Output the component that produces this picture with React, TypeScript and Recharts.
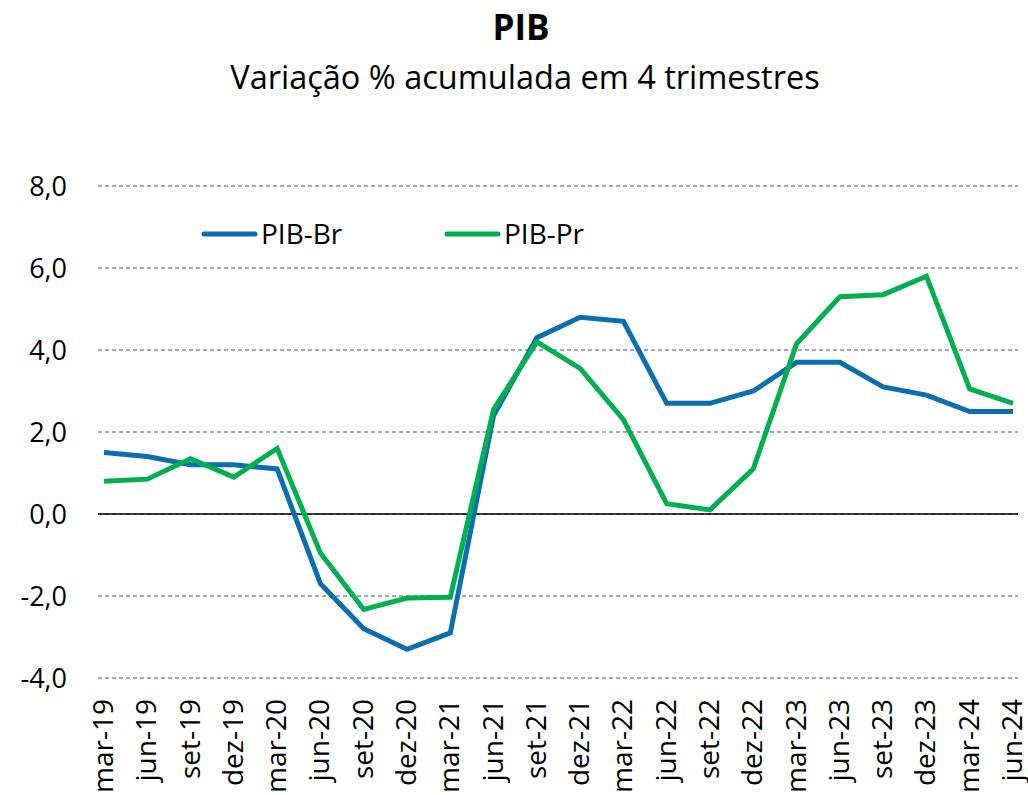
import React from "react";
import { LineChart, Line, XAxis, YAxis, CartesianGrid, ReferenceLine } from "recharts";

const categories = [
  "mar-19", "jun-19", "set-19", "dez-19",
  "mar-20", "jun-20", "set-20", "dez-20",
  "mar-21", "jun-21", "set-21", "dez-21",
  "mar-22", "jun-22", "set-22", "dez-22",
  "mar-23", "jun-23", "set-23", "dez-23",
  "mar-24", "jun-24",
];
const pibBr = [1.5, 1.4, 1.2, 1.2, 1.1, -1.7, -2.8, -3.3, -2.9, 2.4, 4.3, 4.8, 4.7, 2.7, 2.7, 3.0, 3.7, 3.7, 3.1, 2.9, 2.5, 2.5];
const pibPr = [0.8, 0.85, 1.35, 0.9, 1.6, -0.95, -2.33, -2.05, -2.03, 2.55, 4.2, 3.55, 2.3, 0.25, 0.1, 1.1, 4.15, 5.3, 5.35, 5.8, 3.05, 2.7];
const yTicks = [-4, -2, 0, 2, 4, 6, 8];
const seriesNames = ["PIB-Br", "PIB-Pr"];

const BLUE = "#0a6eb0";
const GREEN = "#00b050";
const FONT = "'Open Sans', 'Noto Sans', sans-serif";

const data = categories.map((c, i) => ({ cat: c, br: pibBr[i], pr: pibPr[i] }));

const fmt = (v: number) => v.toFixed(1).replace(".", ",");

const XTick = (props: any) => {
  const { x, y, payload } = props;
  return (
    <text
      x={0}
      y={0}
      transform={`translate(${x - 2},${y + 13}) rotate(-90)`}
      textAnchor="end"
      dominantBaseline="central"
      fontSize={28}
      fontFamily={FONT}
      fill="#000"
    >
      {payload.value}
    </text>
  );
};

export default function App() {
  return (
    <div style={{ position: "absolute", left: 0, top: 0, width: 1028, height: 795, background: "#fff" }}>
      <LineChart
        width={1028}
        height={795}
        data={data}
        margin={{ top: 186, right: 10, bottom: 0, left: 0 }}
      >
        <CartesianGrid horizontal vertical={false} stroke="#8c8c8c" strokeDasharray="4 3" strokeWidth={1.5} />
        <XAxis
          dataKey="cat"
          interval={0}
          height={117}
          padding={{ left: 6, right: 5 }}
          axisLine={false}
          tickLine={false}
          tick={<XTick />}
        />
        <YAxis
          width={98}
          domain={[-4, 8]}
          ticks={yTicks}
          interval={0}
          axisLine={false}
          tickLine={false}
          tickFormatter={fmt}
          tick={{ fontSize: 27, fontFamily: FONT, fill: "#000" }}
          tickMargin={25}
        />
        <ReferenceLine y={0} stroke="#000" strokeWidth={1.5} />
        <Line type="linear" dataKey="br" name={seriesNames[0]} stroke={BLUE} strokeWidth={5} dot={false} isAnimationActive={false} />
        <Line type="linear" dataKey="pr" name={seriesNames[1]} stroke={GREEN} strokeWidth={5} dot={false} isAnimationActive={false} />
      </LineChart>
      <svg width={1028} height={260} style={{ position: "absolute", left: 0, top: 0, pointerEvents: "none" }}>
        <text x={521} y={40} textAnchor="middle" fontFamily={FONT} fontWeight={700} fontSize={35} fill="#000">PIB</text>
        <text x={525} y={89} textAnchor="middle" fontFamily={FONT} fontSize={32.5} fill="#000">Variação % acumulada em 4 trimestres</text>
        <line x1={204} y1={234} x2={255} y2={234} stroke={BLUE} strokeWidth={5} strokeLinecap="round" />
        <text x={261} y={244} fontFamily={FONT} fontSize={28} fill="#000">{seriesNames[0]}</text>
        <line x1={447} y1={234} x2={498} y2={234} stroke={GREEN} strokeWidth={5} strokeLinecap="round" />
        <text x={504} y={244} fontFamily={FONT} fontSize={28} fill="#000">{seriesNames[1]}</text>
      </svg>
    </div>
  );
}
